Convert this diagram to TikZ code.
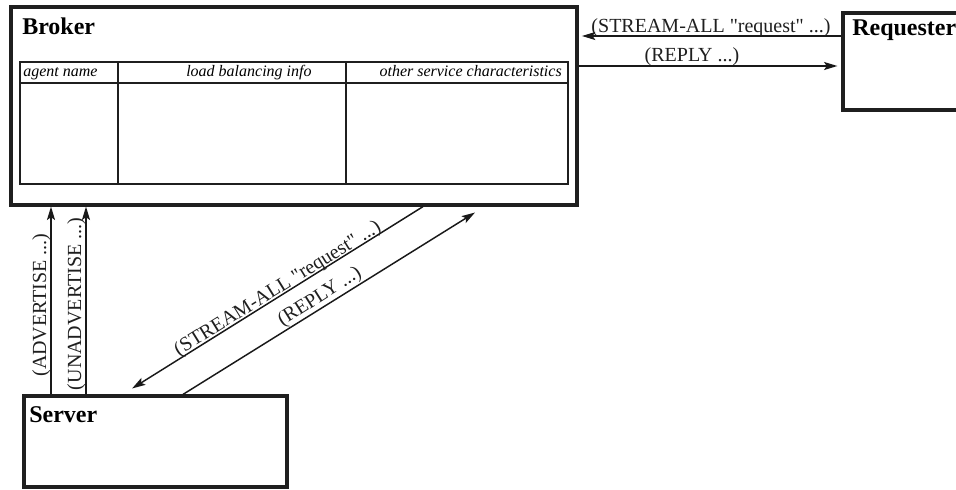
\documentclass[tikz,border=0pt]{standalone}
\usepackage{fontspec}
\setmainfont{Liberation Serif}
\usetikzlibrary{arrows.meta,fit}
\newcommand{\sq}{\textquotedbl{}}
\begin{document}
\begin{tikzpicture}[x=0.75pt,y=-0.75pt,
  box/.style={draw=black!88, line width=2.4pt, inner sep=0pt},
  tbl/.style={draw=black!88, line width=1.4pt},
  arr/.style={draw=black!90, line width=1.1pt, -{Stealth[length=10pt,width=6pt,inset=2pt]}},
  title/.style={font=\bfseries\fontsize{18}{20}\selectfont, inner sep=0pt, anchor=base west},
  hdr/.style={font=\itshape\fontsize{12}{14}\selectfont, inner sep=0pt, anchor=base west},
  msg/.style={font=\fontsize{15}{17}\selectfont, inner sep=0pt, text=black!88}
]
\useasboundingbox (0,0) rectangle (956,489);
\clip (0,0) rectangle (956,489);

% boxes
\node[box, fit={(11,7) (577,205)}] (broker) {};
\node[box, fit={(843,13) (990,110)}] (requester) {};
\node[box, fit={(24,396) (287,487)}] (server) {};

\node[title] (brokert) at (22,34) {Broker};
\node[title] (requestert) at (852,36) {Requester};
\node[title] (servert) at (29,422) {Server};

% table inside broker
\draw[tbl] (20,62) rectangle (568,184);
\draw[tbl] (20,83) -- (568,83);
\draw[tbl] (118,62) -- (118,184);
\draw[tbl] (346,62) -- (346,184);
\node[hdr] (h1) at (23,76) {agent name};
\node[hdr] (h2) at (186,76) {load balancing info};
\node[hdr, anchor=base east] (h3) at (562,76) {other service characteristics};

% helper coordinates
\coordinate (xadv) at (51,0);
\coordinate (xunadv) at (86,0);
\coordinate (xsb) at (423,0);
\coordinate (xss) at (122.6,0);
\coordinate (xrs) at (183,0);
\coordinate (xrb) at (484.5,0);
\coordinate (yreq) at (0,36);
\coordinate (yrep) at (0,66);

% vertical arrows
\draw[arr] (server.north -| xadv) -- (broker.south -| xadv);
\draw[arr] (server.north -| xunadv) -- (broker.south -| xunadv);
\node[msg, rotate=90, anchor=base] (advl) at (46,305) {(ADVERTISE ...)};
\node[msg, rotate=90, anchor=base] (unadvl) at (81,304) {(UNADVERTISE ...)};

% diagonal arrows
\draw[arr, shorten >=8.4pt] (broker.south -| xsb) -- (server.north -| xss);
\draw[arr, shorten >=8.4pt] (server.north -| xrs) -- (broker.south -| xrb);
\node[msg, rotate=31.8] (streaml) at (278,289) {(STREAM-ALL \sq request\sq\ ...)};
\node[msg, rotate=32.4] (replyl) at (320,297) {(REPLY ...)};

% horizontal arrows
\draw[arr, shorten >=2.5pt] (requester.west |- yreq) -- (broker.east |- yreq);
\draw[arr, shorten >=3pt] (broker.east |- yrep) -- (requester.west |- yrep);
\node[msg, anchor=base] (streamh) at (711,32) {(STREAM-ALL \sq request\sq\ ...)};
\node[msg, anchor=base] (replyh) at (692,61) {(REPLY ...)};
\end{tikzpicture}
\end{document}
